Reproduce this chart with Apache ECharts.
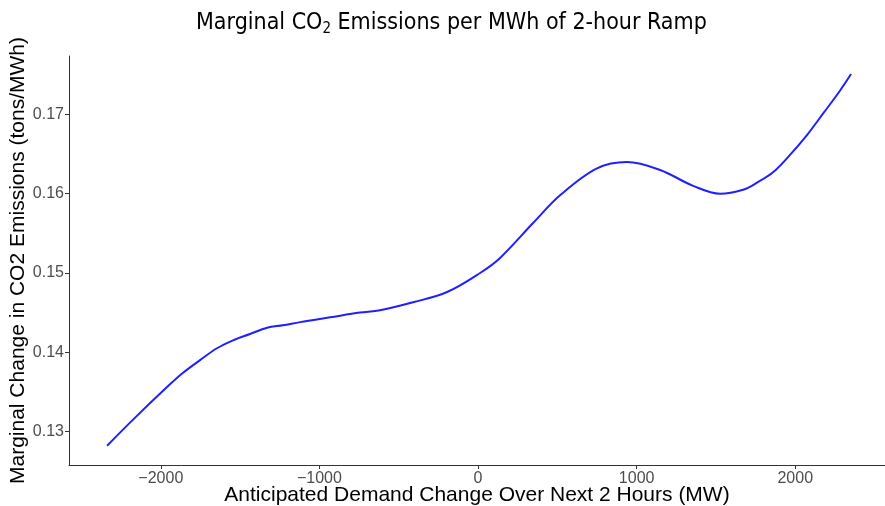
<!DOCTYPE html>
<html>
<head>
<meta charset="utf-8">
<script src="https://cdn.jsdelivr.net/npm/echarts@6/dist/echarts.min.js"></script>
<style>html,body{margin:0;padding:0;background:#fff}#c{width:885px;height:506px}</style>
</head>
<body>
<div id="c"></div>
<script>
const demandMW = [-2339,-2175,-1961,-1860,-1753,-1646,-1545,-1438,-1330,-1230,-1122,-933,-744,-618,-410,-195,13,139,347,517,750,939,1148,1356,1526,1671,1759,1860,1967,2074,2175,2282,2352];
const emissions = [0.1282,0.1315,0.1356,0.1374,0.1390,0.1405,0.1415,0.1423,0.1431,0.1434,0.1438,0.1444,0.1450,0.1453,0.1463,0.1476,0.1500,0.1519,0.1563,0.1598,0.1632,0.1640,0.1630,0.1610,0.1600,0.1605,0.1614,0.1627,0.1649,0.1674,0.1701,0.1730,0.1751];
const xTicks = [-2000,-1000,0,1000,2000];
const yTicks = [0.13,0.14,0.15,0.16,0.17];

const chart = echarts.init(document.getElementById('c'), null, {renderer:'canvas'});
const data = demandMW.map((x,i)=>[x, emissions[i]]);
const axisCol = '#333333';
const titleFont = 'DejaVu Sans Condensed, Liberation Sans Narrow, sans-serif';
chart.setOption({
  animation:false,
  backgroundColor:'#ffffff',
  title:{
    text:'{t|Marginal CO}{s|2}{t| Emissions per MWh of 2-hour Ramp}',
    left:191, top:4,
    textStyle:{
      rich:{
        t:{fontFamily:titleFont,fontSize:23,fontWeight:'normal',color:'#000'},
        s:{fontFamily:titleFont,fontSize:15,fontWeight:'normal',color:'#000',verticalAlign:'bottom',padding:[13,0,0,0]}
      }
    }
  },
  grid:{left:69, right:0, top:56, bottom:41, containLabel:false, outerBoundsMode:'none'},
  xAxis:{
    type:'value', min:-2579, max:2566,
    name:'Anticipated Demand Change Over Next 2 Hours (MW)',
    nameLocation:'middle', nameGap:20, nameMoveOverlap:false,
    nameTextStyle:{fontFamily:'Liberation Sans, Arial, sans-serif',fontSize:21,color:'#000'},
    axisLine:{show:true,onZero:false,lineStyle:{color:axisCol,width:1}},
    axisTick:{show:true,length:4,customValues:xTicks,lineStyle:{color:axisCol}},
    axisLabel:{customValues:xTicks,fontFamily:'Liberation Sans, Arial, sans-serif',fontSize:16,color:'#4d4d4d',margin:6,
      formatter:v=>v<0?'\u2212'+Math.abs(v):String(v)},
    splitLine:{show:false}
  },
  yAxis:{
    type:'value', min:0.12577, max:0.17738,
    name:'Marginal Change in CO2 Emissions (tons/MWh)',
    nameLocation:'middle', nameGap:40, nameMoveOverlap:false,
    nameTextStyle:{fontFamily:'Liberation Sans, Arial, sans-serif',fontSize:21,color:'#000'},
    axisLine:{show:true,onZero:false,lineStyle:{color:axisCol,width:1}},
    axisTick:{show:true,length:4,customValues:yTicks,lineStyle:{color:axisCol}},
    axisLabel:{customValues:yTicks,fontFamily:'Liberation Sans, Arial, sans-serif',fontSize:16,color:'#4d4d4d',margin:5,
      formatter:v=>v.toFixed(2)},
    splitLine:{show:false}
  },
  series:[{
    type:'line', data:data, smooth:0.35, showSymbol:false,
    lineStyle:{color:'#1f1fff', width:2}
  }]
});
</script>
</body>
</html>
